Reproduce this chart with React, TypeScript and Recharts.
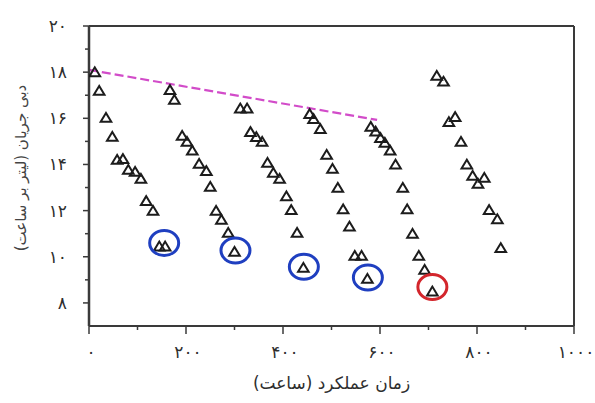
import React from 'react';
import { ScatterChart, Scatter, XAxis, YAxis, ReferenceLine, Label } from 'recharts';

// Flow-rate measurements per operating run (x: hours, y: flow)
const run1 = [
  { x: 12, y: 18.0 }, { x: 21, y: 17.19 }, { x: 35, y: 16.02 }, { x: 48, y: 15.2 },
  { x: 58, y: 14.2 }, { x: 70, y: 14.24 }, { x: 81, y: 13.77 }, { x: 95, y: 13.68 },
  { x: 107, y: 13.38 }, { x: 118, y: 12.42 }, { x: 132, y: 11.99 }, { x: 145, y: 10.45 },
  { x: 157, y: 10.45 },
];
const run2 = [
  { x: 167, y: 17.23 }, { x: 176, y: 16.8 }, { x: 192, y: 15.24 }, { x: 202, y: 14.98 },
  { x: 213, y: 14.6 }, { x: 227, y: 14.03 }, { x: 242, y: 13.72 }, { x: 250, y: 13.03 },
  { x: 262, y: 11.99 }, { x: 273, y: 11.6 }, { x: 287, y: 11.04 }, { x: 300, y: 10.22 },
];
const run3 = [
  { x: 312, y: 16.43 }, { x: 326, y: 16.43 }, { x: 333, y: 15.41 }, { x: 345, y: 15.19 },
  { x: 357, y: 14.98 }, { x: 368, y: 14.07 }, { x: 380, y: 13.64 }, { x: 393, y: 13.38 },
  { x: 407, y: 12.62 }, { x: 417, y: 12.03 }, { x: 429, y: 11.04 }, { x: 442, y: 9.52 },
];
const run4 = [
  { x: 455, y: 16.19 }, { x: 463, y: 15.97 }, { x: 477, y: 15.54 }, { x: 490, y: 14.42 },
  { x: 502, y: 13.81 }, { x: 513, y: 12.99 }, { x: 524, y: 12.06 }, { x: 537, y: 11.31 },
  { x: 548, y: 10.04 }, { x: 562, y: 10.04 }, { x: 574, y: 9.05 },
];
const run5 = [
  { x: 581, y: 15.63 }, { x: 591, y: 15.43 }, { x: 601, y: 15.15 }, { x: 610, y: 14.94 },
  { x: 621, y: 14.6 }, { x: 632, y: 14.0 }, { x: 647, y: 12.99 }, { x: 656, y: 12.06 },
  { x: 667, y: 11.0 }, { x: 680, y: 10.04 }, { x: 692, y: 9.44 }, { x: 708, y: 8.5 },
];
const run6 = [
  { x: 717, y: 17.84 }, { x: 731, y: 17.59 }, { x: 742, y: 15.84 }, { x: 755, y: 16.06 },
  { x: 767, y: 14.98 }, { x: 779, y: 14.0 }, { x: 791, y: 13.51 }, { x: 802, y: 13.16 },
  { x: 815, y: 13.42 }, { x: 825, y: 12.03 }, { x: 842, y: 11.63 }, { x: 849, y: 10.38 },
];
const runs = [run1, run2, run3, run4, run5, run6];

// Highlight rings
const blueRings = [
  { x: 155, y: 10.6 }, { x: 302, y: 10.27 }, { x: 443, y: 9.57 }, { x: 575, y: 9.1 },
];
const redRings = [{ x: 708, y: 8.69 }];

// Dashed envelope line
const trendLine = [{ x: 0, y: 18.1 }, { x: 594, y: 15.93 }];

const xTicks = [0, 100, 200, 300, 400, 500, 600, 700, 800, 900, 1000];
const xLabelTicks = [0, 200, 400, 600, 800, 1000];
const yTicks = [8, 9, 10, 11, 12, 13, 14, 15, 16, 17, 18, 19, 20];
const yLabelTicks = [8, 10, 12, 14, 16, 18, 20];

const xTitle = 'زمان عملکرد (ساعت)';
const yTitle = 'دبی جریان (لیتر بر ساعت)';

const FA_DIGITS = '۰۱۲۳۴۵۶۷۸۹';
const toFa = (n: number) => String(n).replace(/\d/g, (d) => FA_DIGITS[Number(d)]);

const AXIS = '#3a3a3a';
const TEXT = '#2e2e2e';
const FONT = 'DejaVu Sans';

const Triangle = (props: any) => {
  const { cx, cy } = props;
  if (cx == null || cy == null) return null;
  return (
    <polygon
      points={`${cx},${cy - 4.8} ${cx - 5.3},${cy + 4} ${cx + 5.3},${cy + 4}`}
      fill="none"
      stroke="#1c1c1c"
      strokeWidth={2}
    />
  );
};

const makeRing = (color: string) => (props: any) => {
  const { cx, cy } = props;
  if (cx == null || cy == null) return null;
  return <ellipse cx={cx} cy={cy} rx={14.5} ry={12.5} fill="none" stroke={color} strokeWidth={3} />;
};
const BlueRing = makeRing('#1f3fc0');
const RedRing = makeRing('#d3262c');

const YTick = (props: any) => {
  const { x, y, payload } = props;
  const v = payload.value;
  const major = yLabelTicks.includes(v);
  return (
    <g>
      <line x1={x - (major ? 6 : 4)} x2={x} y1={y} y2={y} stroke={AXIS} strokeWidth={1.5} />
      {major && (
        <text x={x - 22} y={y} dy={6} textAnchor="end" fill={TEXT} fontSize={17} fontFamily={FONT} letterSpacing={3}>
          {toFa(v)}
        </text>
      )}
    </g>
  );
};

const XTick = (props: any) => {
  const { x, y, payload } = props;
  const v = payload.value;
  const major = xLabelTicks.includes(v);
  return (
    <g>
      <line x1={x} x2={x} y1={y} y2={y + (major ? 8 : 4)} stroke={AXIS} strokeWidth={1.5} />
      {major && (
        <text x={x + 2} y={y} dy={32} textAnchor="middle" fill={TEXT} fontSize={17} fontFamily={FONT} letterSpacing={5}>
          {toFa(v)}
        </text>
      )}
    </g>
  );
};

export default function App() {
  return (
    <div style={{ position: 'absolute', left: 0, top: 0, width: 595, height: 403, background: '#fff' }}>
      <ScatterChart width={595} height={403} margin={{ top: 26, right: 21, bottom: 0, left: 0 }}>
        <XAxis
          type="number"
          dataKey="x"
          domain={[0, 1000]}
          ticks={xTicks}
          interval={0}
          tickSize={0}
          tickMargin={0}
          tickLine={false}
          tick={<XTick />}
          height={77}
          axisLine={{ stroke: AXIS, strokeWidth: 2 }}
          allowDataOverflow
        >
          <Label
            content={(p: any) => {
              const vb = p.viewBox || {};
              return (
                <text
                  x={vb.x + vb.width / 2}
                  y={vb.y + 63}
                  textAnchor="middle"
                  direction="rtl"
                  fill={TEXT}
                  fontSize={17}
                  fontFamily={FONT}
                  letterSpacing={1}
                >
                  {xTitle}
                </text>
              );
            }}
          />
        </XAxis>
        <YAxis
          type="number"
          dataKey="y"
          domain={[7, 20]}
          ticks={yTicks}
          interval={0}
          tickSize={0}
          tickMargin={0}
          tickLine={false}
          tick={<YTick />}
          width={89}
          axisLine={{ stroke: AXIS, strokeWidth: 2.5 }}
          allowDataOverflow
        >
          <Label
            content={(p: any) => {
              const vb = p.viewBox || {};
              const cx = 21;
              const cy = vb.y + vb.height / 2 - 8;
              return (
                <text
                  x={cx}
                  y={cy}
                  transform={`rotate(-90 ${cx} ${cy})`}
                  textAnchor="middle"
                  dominantBaseline="central"
                  direction="rtl"
                  fill="#444"
                  fontSize={15}
                  fontFamily={FONT}
                  letterSpacing={1.5}
                >
                  {yTitle}
                </text>
              );
            }}
          />
        </YAxis>
        <ReferenceLine y={20} stroke={AXIS} strokeWidth={2} />
        <ReferenceLine x={1000} stroke={AXIS} strokeWidth={2} />
        <ReferenceLine
          segment={trendLine}
          stroke="#d24cc9"
          strokeWidth={2.2}
          strokeDasharray="9 4"
          ifOverflow="visible"
        />
        {runs.map((r, i) => (
          <Scatter key={i} data={r} shape={<Triangle />} isAnimationActive={false} />
        ))}
        <Scatter data={blueRings} shape={<BlueRing />} isAnimationActive={false} />
        <Scatter data={redRings} shape={<RedRing />} isAnimationActive={false} />
      </ScatterChart>
    </div>
  );
}
